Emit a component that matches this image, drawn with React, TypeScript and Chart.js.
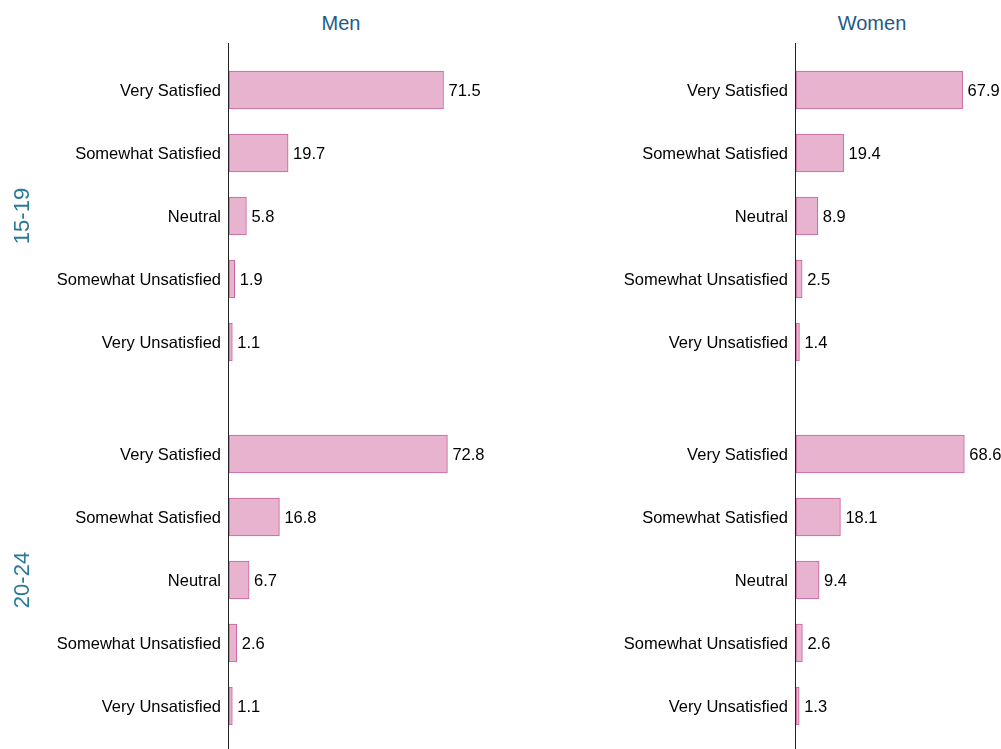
import React, { useEffect, useRef } from 'react';
import { Chart, registerables } from 'chart.js';

Chart.register(...registerables);

const FONT = '"Liberation Sans", Arial, Helvetica, sans-serif';

const categories = ['Very Satisfied', 'Somewhat Satisfied', 'Neutral', 'Somewhat Unsatisfied', 'Very Unsatisfied'];
const sexes = ['Men', 'Women'];
const ageGroups = ['15-19', '20-24'];
const men1519 = [71.5, 19.7, 5.8, 1.9, 1.1];
const women1519 = [67.9, 19.4, 8.9, 2.5, 1.4];
const men2024 = [72.8, 16.8, 6.7, 2.6, 1.1];
const women2024 = [68.6, 18.1, 9.4, 2.6, 1.3];

const BAR_FILL = '#e8b3cf';
const BAR_BORDER = '#c9609a';
const TITLE_COLOR = '#1d5b88';
const ROW_COLOR = '#2b7999';
const LABEL_SIZE = 16.5;

const axisLinePlugin = {
  id: 'axisLine',
  afterDraw(chart: any) {
    const { ctx, chartArea } = chart;
    ctx.save();
    ctx.strokeStyle = '#222';
    ctx.lineWidth = 1;
    const x = Math.round(chartArea.left) - 0.5;
    ctx.beginPath();
    ctx.moveTo(x, 0);
    ctx.lineTo(x, chart.height);
    ctx.stroke();
    ctx.restore();
  },
};

const valueLabelPlugin = {
  id: 'valueLabels',
  afterDatasetsDraw(chart: any) {
    const { ctx } = chart;
    const meta = chart.getDatasetMeta(0);
    const data = chart.data.datasets[0].data as number[];
    ctx.save();
    ctx.font = `${LABEL_SIZE}px ${FONT}`;
    ctx.fillStyle = '#000';
    ctx.textAlign = 'left';
    ctx.textBaseline = 'middle';
    meta.data.forEach((bar: any, i: number) => {
      ctx.fillText(data[i].toFixed(1), bar.x + 5, bar.y + 1.5);
    });
    ctx.restore();
  },
};

type PanelProps = {
  values: number[];
  left: number;
  top: number;
  width: number;
  height: number;
  axisWidth: number;
  padTop: number;
  padBottom: number;
  padRight: number;
};

function Panel({ values, left, top, width, height, axisWidth, padTop, padBottom, padRight }: PanelProps) {
  const ref = useRef<HTMLCanvasElement | null>(null);
  useEffect(() => {
    if (!ref.current) return;
    const chart = new Chart(ref.current, {
      type: 'bar',
      data: {
        labels: categories,
        datasets: [
          {
            data: values,
            backgroundColor: BAR_FILL,
            borderColor: BAR_BORDER,
            borderWidth: 1,
            borderSkipped: false,
            barThickness: 38,
          },
        ],
      },
      options: {
        indexAxis: 'y',
        animation: false,
        responsive: false,
        maintainAspectRatio: false,
        layout: { padding: { top: padTop, bottom: padBottom, left: 0, right: padRight } },
        plugins: { legend: { display: false }, tooltip: { enabled: false }, title: { display: false } },
        scales: {
          x: { type: 'linear', min: 0, max: 80, display: false },
          y: {
            type: 'category',
            grid: { display: false, drawTicks: false },
            border: { display: false },
            ticks: { color: '#000', font: { family: FONT, size: LABEL_SIZE }, padding: 8, labelOffset: 1.5 },
            afterFit(scale: any) {
              scale.width = axisWidth;
              scale.paddingTop = 0;
              scale.paddingBottom = 0;
            },
          },
        },
      },
      plugins: [axisLinePlugin, valueLabelPlugin],
    });
    return () => chart.destroy();
  }, [values, axisWidth, padTop, padBottom, padRight]);
  return (
    <canvas
      ref={ref}
      width={width}
      height={height}
      style={{ position: 'absolute', left, top, width, height }}
    />
  );
}

export default function App() {
  useEffect(() => {
    document.body.style.margin = '0';
  }, []);
  const titleStyle = (cx: number): React.CSSProperties => ({
    position: 'absolute',
    left: cx - 100,
    top: 11,
    width: 200,
    textAlign: 'center',
    fontFamily: FONT,
    fontSize: 20,
    lineHeight: '24px',
    color: TITLE_COLOR,
  });
  const rowStyle = (cy: number): React.CSSProperties => ({
    position: 'absolute',
    left: 22 - 60,
    top: cy - 13,
    width: 120,
    height: 26,
    lineHeight: '26px',
    textAlign: 'center',
    fontFamily: FONT,
    fontSize: 22,
    color: ROW_COLOR,
    transform: 'rotate(-90deg)',
  });
  return (
    <div style={{ position: 'absolute', left: 0, top: 0, width: 1001, height: 749, overflow: 'hidden', background: '#fff' }}>
      <Panel values={men1519} left={0} top={43} width={500} height={355} axisWidth={229} padTop={15.5} padBottom={24.5} padRight={31} />
      <Panel values={men2024} left={0} top={398} width={500} height={351} axisWidth={229} padTop={24.5} padBottom={11.5} padRight={31} />
      <Panel values={women1519} left={500} top={43} width={501} height={355} axisWidth={296} padTop={15.5} padBottom={24.5} padRight={8.7} />
      <Panel values={women2024} left={500} top={398} width={501} height={351} axisWidth={296} padTop={24.5} padBottom={11.5} padRight={8.7} />
      <div style={titleStyle(341)}>{sexes[0]}</div>
      <div style={titleStyle(872)}>{sexes[1]}</div>
      <div style={rowStyle(216)}>{ageGroups[0]}</div>
      <div style={rowStyle(580)}>{ageGroups[1]}</div>
    </div>
  );
}
